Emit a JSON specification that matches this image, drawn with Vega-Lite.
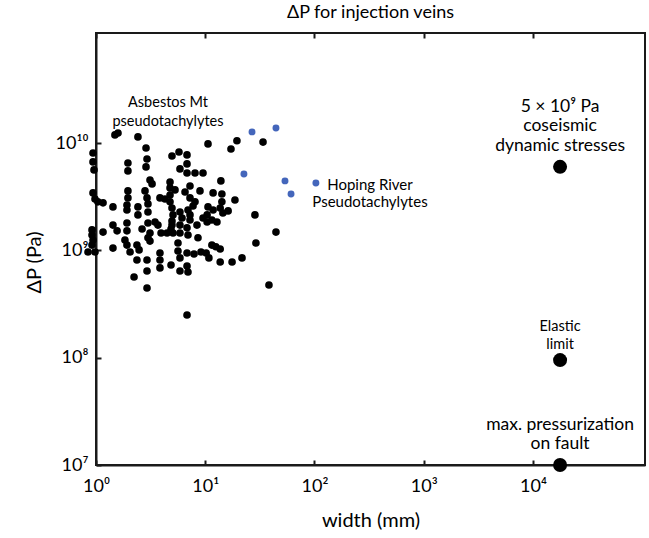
{
  "$schema": "https://vega.github.io/schema/vega-lite/v6.json",
  "width": 549,
  "height": 432,
  "autosize": {"type": "none"},
  "padding": {"left": 96, "top": 33, "right": 4, "bottom": 73},
  "background": "white",
  "config": {
    "view": {"stroke": "#1a1a1a", "strokeWidth": 2},
    "font": "Lato",
    "axis": {"labelFont": "Lato", "titleFont": "Lato", "labelColor": "#000", "titleColor": "#000", "tickColor": "#1a1a1a", "domainColor": "#1a1a1a", "grid": false}
  },
  "title": {"text": "ΔP for injection veins", "fontSize": 18, "fontWeight": "normal", "font": "Lato", "color": "#000", "offset": 10},
  "datasets": {
    "asbestos": [
      {"w":1.49,"p":1.19e10},{"w":1.59,"p":1.24e10},{"w":2.42,"p":1.14e10},{"w":2.87,"p":9.0e9},{"w":10.6,"p":9.81e9},
      {"w":19.5,"p":1.05e10},{"w":17.2,"p":8.81e9},{"w":33.8,"p":1.02e10},{"w":0.939,"p":8.08e9},{"w":0.939,"p":6.67e9},
      {"w":0.959,"p":5.62e9},{"w":1.96,"p":6.52e9},{"w":1.96,"p":5.5e9},{"w":2.93,"p":7.11e9},{"w":2.87,"p":5.99e9},
      {"w":4.96,"p":7.58e9},{"w":5.75,"p":8.26e9},{"w":6.81,"p":7.75e9},{"w":6.81,"p":6.39e9},{"w":5.87,"p":5.74e9},
      {"w":6.81,"p":5.26e9},{"w":8.06,"p":5.26e9},{"w":9.54,"p":5.26e9},{"w":3.12,"p":4.53e9},{"w":3.26,"p":4.16e9},
      {"w":4.76,"p":4.34e9},{"w":4.76,"p":3.82e9},{"w":4.76,"p":3.28e9},{"w":5.29,"p":3.66e9},{"w":6.53,"p":3.5e9},
      {"w":8.95,"p":3.58e9},{"w":11.8,"p":3.43e9},{"w":14.2,"p":3.35e9},{"w":13.9,"p":4.44e9},{"w":18.7,"p":2.95e9},
      {"w":7.25,"p":3.08e9},{"w":8.06,"p":2.83e9},{"w":14.2,"p":2.83e9},{"w":0.939,"p":3.43e9},{"w":0.979,"p":3.01e9},
      {"w":1.16,"p":2.77e9},{"w":1.96,"p":3.58e9},{"w":1.96,"p":3.08e9},{"w":1.92,"p":2.65e9},{"w":2.81,"p":3.58e9},
      {"w":2.93,"p":3.08e9},{"w":2.99,"p":2.71e9},{"w":3.85,"p":3.08e9},{"w":4.28,"p":3.01e9},{"w":1.04,"p":2.83e9},
      {"w":1.43,"p":2.54e9},{"w":1.92,"p":2.38e9},{"w":2.42,"p":2.54e9},{"w":2.42,"p":2.14e9},{"w":2.99,"p":2.28e9},
      {"w":4.76,"p":2.83e9},{"w":4.96,"p":2.48e9},{"w":5.87,"p":2.28e9},{"w":6.95,"p":2.38e9},{"w":7.73,"p":2.59e9},
      {"w":7.25,"p":2.14e9},{"w":10.6,"p":2.54e9},{"w":11.8,"p":2.38e9},{"w":10.4,"p":2.14e9},{"w":13.7,"p":2.48e9},
      {"w":14.5,"p":2.23e9},{"w":16.2,"p":2.33e9},{"w":28.5,"p":2.14e9},{"w":6.13,"p":2.0e9},{"w":5.07,"p":2.14e9},
      {"w":1.43,"p":1.72e9},{"w":1.56,"p":1.52e9},{"w":1.92,"p":1.8e9},{"w":1.92,"p":1.52e9},{"w":2.64,"p":1.58e9},
      {"w":2.99,"p":1.8e9},{"w":3.47,"p":1.84e9},{"w":3.69,"p":1.72e9},{"w":3.12,"p":1.45e9},{"w":2.99,"p":1.31e9},
      {"w":3.12,"p":1.22e9},{"w":3.94,"p":1.45e9},{"w":4.47,"p":1.45e9},{"w":4.86,"p":1.58e9},{"w":4.96,"p":1.88e9},
      {"w":5.87,"p":1.72e9},{"w":5.87,"p":1.45e9},{"w":6.81,"p":1.62e9},{"w":7.25,"p":1.92e9},{"w":6.95,"p":1.39e9},
      {"w":8.4,"p":1.72e9},{"w":8.58,"p":1.31e9},{"w":9.54,"p":2.0e9},{"w":10.4,"p":1.84e9},{"w":11.5,"p":1.92e9},
      {"w":12.8,"p":1.84e9},{"w":0.919,"p":1.55e9},{"w":0.919,"p":1.39e9},{"w":0.939,"p":1.25e9},{"w":0.919,"p":1.12e9},
      {"w":1.16,"p":1.48e9},{"w":1.43,"p":1.05e9},{"w":1.84,"p":1.25e9},{"w":1.92,"p":1.12e9},{"w":2.05,"p":9.66e8},
      {"w":2.37,"p":1.12e9},{"w":2.48,"p":1.01e9},{"w":4.96,"p":1.72e9},{"w":5.07,"p":1.45e9},{"w":5.63,"p":1.17e9},
      {"w":5.63,"p":9.87e8},{"w":5.87,"p":8.5e8},{"w":6.81,"p":9.46e8},{"w":7.89,"p":9.26e8},{"w":9.14,"p":9.66e8},
      {"w":10.2,"p":9.46e8},{"w":10.8,"p":8.5e8},{"w":11.5,"p":1.12e9},{"w":12.5,"p":1.08e9},{"w":13.7,"p":1.03e9},
      {"w":29.1,"p":1.17e9},{"w":44.4,"p":1.48e9},{"w":13.7,"p":7.8e8},{"w":17.6,"p":7.8e8},{"w":21.7,"p":8.5e8},
      {"w":2.37,"p":8.14e8},{"w":2.93,"p":8.14e8},{"w":2.93,"p":6.43e8},{"w":2.23,"p":5.65e8},{"w":2.93,"p":4.46e8},
      {"w":3.85,"p":9.46e8},{"w":3.85,"p":8.14e8},{"w":3.85,"p":6.86e8},{"w":4.86,"p":7.31e8},{"w":5.87,"p":6.43e8},
      {"w":6.81,"p":7.15e8},{"w":6.95,"p":6.29e8},{"w":38.3,"p":4.76e8},{"w":6.81,"p":2.5e8},{"w":7.25,"p":3.98e9},
      {"w":0.845,"p":9.66e8},{"w":0.979,"p":9.66e8}
    ],
    "hoping": [
      {"w":26.8,"p":1.27e10},{"w":44.4,"p":1.38e10},{"w":22.6,"p":5.15e9},{"w":53.7,"p":4.44e9},{"w":61.0,"p":3.35e9}
    ],
    "legendMark": [{"w":103,"p":4.25e9}],
    "models": [
      {"w":17700,"p":6.0e9,"name":"coseismic dynamic stresses"},
      {"w":17700,"p":9.5e7,"name":"Elastic limit"},
      {"w":17700,"p":1.0e7,"name":"max. pressurization on fault"}
    ],
    "notes": [
      {"w":4.56,"p":2.364e10,"kind":"small","text":"Asbestos Mt\npseudotachylytes"},
      {"w":322,"p":4.07e9,"kind":"hoping","text":"Hoping River\nPseudotachylytes"},
      {"w":17700,"p":2.17e10,"kind":"big","text":"5 × 10⁹ Pa\ncoseismic\ndynamic stresses"},
      {"w":17700,"p":1.932e8,"kind":"tiny","text":"Elastic\nlimit"},
      {"w":17700,"p":2.36e7,"kind":"big","text":"max. pressurization\non fault"}
    ]
  },
  "resolve": {"axis": {"x": "independent", "y": "independent"}},
  "layer": [
    {
      "data": {"name": "asbestos"},
      "mark": {"type": "circle", "size": 58, "color": "#000", "opacity": 1},
      "encoding": {
        "x": {"field": "w", "type": "quantitative",
          "scale": {"type": "log", "domain": [1, 106000], "nice": false},
          "axis": {"orient": "bottom", "values": [1, 10, 100, 1000, 10000], "tickSize": -5, "tickWidth": 2, "domainWidth": 2,
            "labelPadding": 17, "labelFontSize": 18, "labelFlush": false, "labelOverlap": false, "labelBound": false,
            "labelExpr": "datum.value == 1 ? '10⁰' : datum.value == 10 ? '10¹' : datum.value == 100 ? '10²' : datum.value == 1000 ? '10³' : '10⁴'",
            "title": "width (mm)", "titleFontSize": 20, "titleFontWeight": "normal", "titlePadding": 15}},
        "y": {"field": "p", "type": "quantitative",
          "scale": {"type": "log", "domain": [1e7, 1.06e11], "nice": false},
          "axis": {"orient": "left", "values": [1e7, 1e8, 1e9, 1e10], "tickSize": -5, "tickWidth": 2, "domainWidth": 2,
            "labelPadding": 13, "labelFontSize": 18, "labelFlush": false, "labelOverlap": false, "labelBound": false,
            "labelExpr": "datum.value == 1e7 ? '10⁷' : datum.value == 1e8 ? '10⁸' : datum.value == 1e9 ? '10⁹' : '10¹⁰'",
            "title": "ΔP (Pa)", "titleFontSize": 20, "titleFontWeight": "normal", "titlePadding": 11, "titleY": 229, "titleAlign": "center"}}
      }
    },
    {
      "data": {"name": "hoping"},
      "mark": {"type": "circle", "size": 48, "color": "#4466bb", "opacity": 1},
      "encoding": {
        "x": {"field": "w", "type": "quantitative", "scale": {"type": "log", "domain": [1, 106000], "nice": false},
          "axis": {"orient": "top", "values": [1, 10, 100, 1000, 10000], "tickSize": -5, "tickWidth": 2, "labels": false, "domain": false, "title": null}},
        "y": {"field": "p", "type": "quantitative", "scale": {"type": "log", "domain": [1e7, 1.06e11], "nice": false}, "axis": null}
      }
    },
    {
      "data": {"name": "legendMark"},
      "mark": {"type": "circle", "size": 48, "color": "#4466bb", "opacity": 1},
      "encoding": {
        "x": {"field": "w", "type": "quantitative", "axis": null},
        "y": {"field": "p", "type": "quantitative", "axis": null}
      }
    },
    {
      "data": {"name": "models"},
      "mark": {"type": "circle", "size": 195, "color": "#000", "opacity": 1},
      "encoding": {
        "x": {"field": "w", "type": "quantitative", "axis": null},
        "y": {"field": "p", "type": "quantitative", "axis": null}
      }
    },
    {
      "data": {"name": "notes"},
      "transform": [{"filter": "datum.kind == 'small'"}],
      "mark": {"type": "text", "font": "Lato", "fontSize": 14.5, "align": "center", "baseline": "middle", "lineBreak": "\n", "lineHeight": 19, "color": "#000"},
      "encoding": {
        "x": {"field": "w", "type": "quantitative", "axis": null},
        "y": {"field": "p", "type": "quantitative", "axis": null},
        "text": {"field": "text"}
      }
    },
    {
      "data": {"name": "notes"},
      "transform": [{"filter": "datum.kind == 'hoping'"}],
      "mark": {"type": "text", "font": "Lato", "fontSize": 15, "align": "center", "baseline": "middle", "lineBreak": "\n", "lineHeight": 17, "color": "#000"},
      "encoding": {
        "x": {"field": "w", "type": "quantitative", "axis": null},
        "y": {"field": "p", "type": "quantitative", "axis": null},
        "text": {"field": "text"}
      }
    },
    {
      "data": {"name": "notes"},
      "transform": [{"filter": "datum.kind == 'big'"}],
      "mark": {"type": "text", "font": "Lato", "fontSize": 17.5, "align": "center", "baseline": "middle", "lineBreak": "\n", "lineHeight": 19.5, "color": "#000"},
      "encoding": {
        "x": {"field": "w", "type": "quantitative", "axis": null},
        "y": {"field": "p", "type": "quantitative", "axis": null},
        "text": {"field": "text"}
      }
    },
    {
      "data": {"name": "notes"},
      "transform": [{"filter": "datum.kind == 'tiny'"}],
      "mark": {"type": "text", "font": "Lato", "fontSize": 14.5, "align": "center", "baseline": "middle", "lineBreak": "\n", "lineHeight": 18, "color": "#000"},
      "encoding": {
        "x": {"field": "w", "type": "quantitative", "axis": null},
        "y": {"field": "p", "type": "quantitative", "axis": null},
        "text": {"field": "text"}
      }
    }
  ]
}
